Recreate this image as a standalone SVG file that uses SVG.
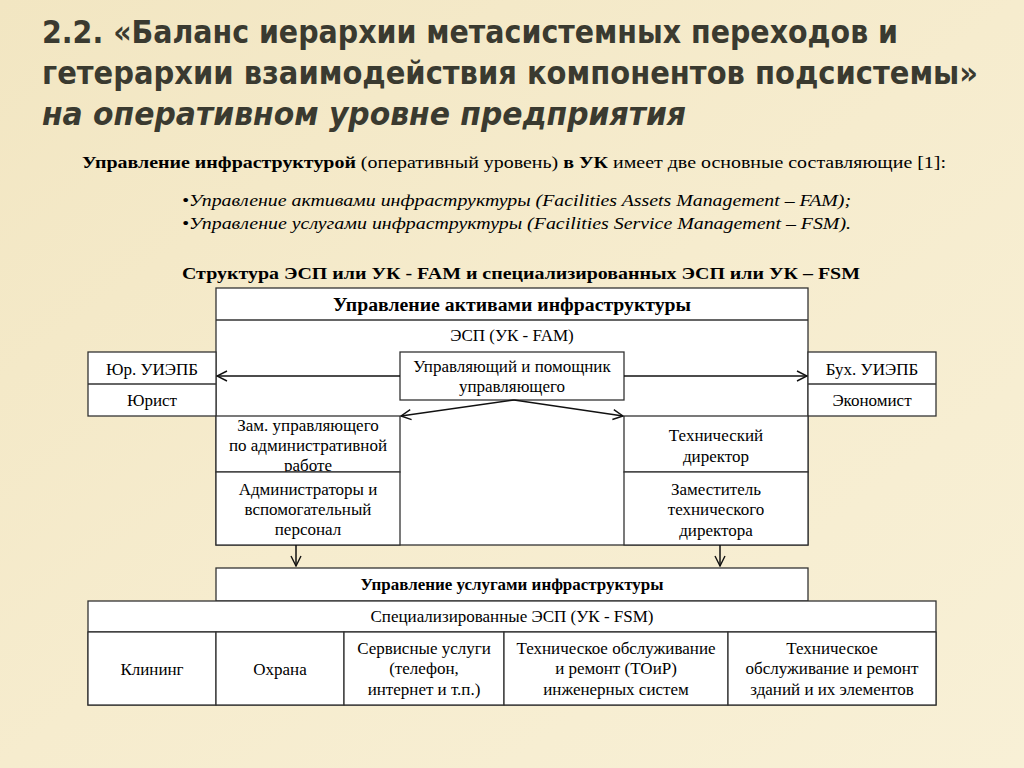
<svg xmlns="http://www.w3.org/2000/svg" width="1024" height="768" viewBox="0 0 1024 768">
<defs>
<style>
.t{font-family:"DejaVu Sans Condensed","DejaVu Sans",sans-serif;font-weight:bold;font-size:32px;fill:#3a3a30}
.s{font-family:"Liberation Serif",serif;font-size:16px;fill:#000}
.b{fill:#fff;stroke:#333;stroke-width:1.3}
.l{stroke:#333;stroke-width:1.3;fill:none}
.c{font-family:"Liberation Serif",serif;font-size:17px;fill:#000;text-anchor:middle}
.cb{font-family:"Liberation Serif",serif;font-size:18px;font-weight:bold;fill:#000;text-anchor:middle}
.a{stroke:#111;stroke-width:1.5;fill:none;marker-end:url(#ah)}
</style>
<marker id="ah" viewBox="0 0 12 12" refX="11" refY="6" markerWidth="12" markerHeight="12" markerUnits="userSpaceOnUse" orient="auto">
<path d="M1,1 L11,6 L1,11" fill="none" stroke="#111" stroke-width="1.4"/>
</marker>
<linearGradient id="bg" x1="0" y1="0" x2="1" y2="1">
<stop offset="0" stop-color="#f2e6c2"/>
<stop offset="0.5" stop-color="#f6ecce"/>
<stop offset="1" stop-color="#f8f0d6"/>
</linearGradient>
</defs>
<rect width="1024" height="768" fill="url(#bg)"/>

<g id="title">
<text class="t" x="42" y="43" textLength="856" lengthAdjust="spacingAndGlyphs">2.2. «Баланс иерархии метасистемных переходов и</text>
<text class="t" x="42" y="84" textLength="936" lengthAdjust="spacingAndGlyphs">гетерархии взаимодействия компонентов подсистемы»</text>
<text class="t" x="42" y="125" font-style="italic" textLength="644" lengthAdjust="spacingAndGlyphs">на оперативном уровне предприятия</text>
</g>

<g id="intro">
<text class="s" x="82" y="168" textLength="864" lengthAdjust="spacingAndGlyphs"><tspan font-weight="bold">Управление инфраструктурой</tspan> (оперативный уровень) <tspan font-weight="bold">в УК</tspan> имеет две основные составляющие [1]:</text>
<text class="s" x="182" y="206" font-style="italic" textLength="669" lengthAdjust="spacingAndGlyphs">•Управление активами инфраструктуры (Facilities Assets Management – FAM);</text>
<text class="s" x="182" y="229" font-style="italic" textLength="669" lengthAdjust="spacingAndGlyphs">•Управление услугами инфраструктуры (Facilities Service Management – FSM).</text>
<text class="s" x="182" y="279" font-weight="bold" font-size="17" textLength="678" lengthAdjust="spacingAndGlyphs">Структура ЭСП или УК - FAM и специализированных ЭСП или УК – FSM</text>
</g>

<g id="fam">
<rect class="b" x="216" y="288" width="592" height="257"/>
<line class="l" x1="216" y1="320" x2="808" y2="320"/>
<text class="cb" x="512" y="311" textLength="358" lengthAdjust="spacingAndGlyphs">Управление активами инфраструктуры</text>
<text class="c" x="512" y="341">ЭСП (УК - FAM)</text>
</g>

<g id="manager">
<rect class="b" x="400" y="352" width="224" height="48"/>
<text class="c" x="512" y="372">Управляющий и помощник</text>
<text class="c" x="512" y="392">управляющего</text>
</g>

<g id="legal">
<rect class="b" x="88" y="352" width="128" height="64"/>
<line class="l" x1="88" y1="384" x2="216" y2="384"/>
<text class="c" x="152" y="375">Юр. УИЭПБ</text>
<text class="c" x="152" y="406">Юрист</text>
</g>

<g id="accounting">
<rect class="b" x="808" y="352" width="128" height="64"/>
<line class="l" x1="808" y1="384" x2="936" y2="384"/>
<text class="c" x="872" y="375">Бух. УИЭПБ</text>
<text class="c" x="872" y="406">Экономист</text>
</g>

<g id="deputy-admin">
<rect class="b" x="216" y="416" width="184" height="56"/>
<text class="c" x="308" y="431">Зам. управляющего</text>
<text class="c" x="308" y="451">по административной</text>
<text class="c" x="308" y="471">работе</text>
</g>

<g id="admins">
<rect class="b" x="216" y="472" width="184" height="73"/>
<text class="c" x="308" y="495">Администраторы и</text>
<text class="c" x="308" y="515">вспомогательный</text>
<text class="c" x="308" y="535">персонал</text>
</g>

<g id="tech-director">
<rect class="b" x="624" y="416" width="184" height="56"/>
<text class="c" x="716" y="441">Технический</text>
<text class="c" x="716" y="462">директор</text>
</g>

<g id="tech-deputy">
<rect class="b" x="624" y="472" width="184" height="73"/>
<text class="c" x="716" y="495">Заместитель</text>
<text class="c" x="716" y="515">технического</text>
<text class="c" x="716" y="536">директора</text>
</g>

<g id="fsm-header">
<rect class="b" x="216" y="568" width="592" height="33"/>
<text class="s" x="512" y="590" font-weight="bold" text-anchor="middle" textLength="303" lengthAdjust="spacingAndGlyphs">Управление услугами инфраструктуры</text>
</g>

<g id="fsm">
<rect class="b" x="88" y="601" width="848" height="104"/>
<line class="l" x1="88" y1="632" x2="936" y2="632"/>
<text class="c" x="512" y="622">Специализированные ЭСП (УК - FSM)</text>
</g>
<g id="cleaning">
<rect class="b" x="88" y="632" width="128" height="73"/>
<text class="c" x="152" y="675">Клининг</text>
</g>
<g id="security">
<rect class="b" x="216" y="632" width="128" height="73"/>
<text class="c" x="280" y="675">Охрана</text>
</g>
<g id="services">
<rect class="b" x="344" y="632" width="160" height="73"/>
<text class="c" x="424" y="654">Сервисные услуги</text>
<text class="c" x="424" y="674">(телефон,</text>
<text class="c" x="424" y="695">интернет и т.п.)</text>
</g>
<g id="toir">
<rect class="b" x="504" y="632" width="224" height="73"/>
<text class="c" x="616" y="654">Техническое обслуживание</text>
<text class="c" x="616" y="674">и ремонт (ТОиР)</text>
<text class="c" x="616" y="695">инженерных систем</text>
</g>
<g id="buildings">
<rect class="b" x="728" y="632" width="208" height="73"/>
<text class="c" x="832" y="654">Техническое</text>
<text class="c" x="832" y="674">обслуживание и ремонт</text>
<text class="c" x="832" y="695">зданий и их элементов</text>
</g>

<g id="connectors">
<line class="a" x1="400" y1="376" x2="217" y2="376"/>
<line class="a" x1="624" y1="376" x2="807" y2="376"/>
<line class="a" x1="514" y1="400" x2="401" y2="416"/>
<line class="a" x1="514" y1="400" x2="623" y2="416"/>
<line class="a" x1="296" y1="545" x2="296" y2="566"/>
<line class="a" x1="720" y1="545" x2="720" y2="566"/>
</g>
</svg>
